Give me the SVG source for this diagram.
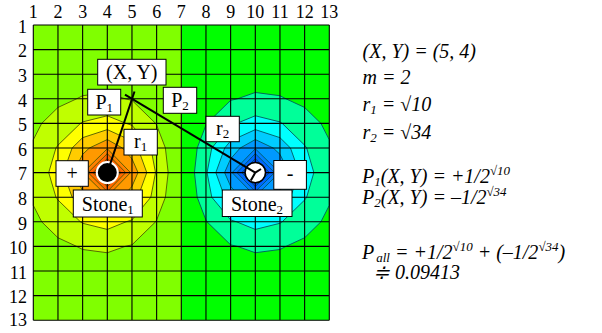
<svg xmlns="http://www.w3.org/2000/svg" width="602" height="333" viewBox="0 0 602 333">
<rect width="602" height="333" fill="#fff"/>
<g id="field">
<rect x="33.3" y="25" width="148" height="295.2" fill="#80ff00"/>
<rect x="181.3" y="25" width="148" height="295.2" fill="#00ff00"/>
<g id="contours-plus" stroke="#4d5a00" stroke-width="0.9" stroke-linejoin="round">
<polygon fill="#c0ff00" points="33.29,139.81 41.68,123.4 57.96,107.46 76.64,98.8 82.63,95.72 107.3,92.45 125.14,98.8 131.97,100.35 155.58,123.4 156.64,125.07 165.4,148 168.16,172.6 165.4,197.2 156.64,220.13 155.58,221.8 131.97,244.85 125.14,246.4 107.3,252.75 82.63,249.48 76.64,246.4 57.96,237.74 41.68,221.8 33.29,205.39"/>
<polygon fill="#ffff00" points="155.53,172.6 150.82,197.2 131.97,219.93 126,221.8 107.3,229.43 82.63,223.28 80.41,221.8 57.96,200 55.94,197.2 48.73,172.6 55.94,148 57.96,145.2 80.41,123.4 82.63,121.92 107.3,115.77 126,123.4 131.97,125.27 150.82,148"/>
<polygon fill="#ffcc00" points="146.77,172.6 137.89,197.2 131.97,204.33 107.3,215.58 82.63,207.53 72.14,197.2 63.39,172.6 72.14,148 82.63,137.67 107.3,129.62 131.97,140.87 137.89,148"/>
<polygon fill="#ff9900" points="138.01,172.6 131.97,186.4 122.4,197.2 107.3,205.64 89.39,197.2 82.63,190.85 73.4,172.6 82.63,154.35 89.39,148 107.3,139.56 122.4,148 131.97,158.8"/>
<polygon fill="#ff8000" points="130.49,172.6 107.3,196.46 83.02,172.6 107.3,148.74"/>
<polygon fill="#ff6600" points="125.7,172.6 107.3,191.54 88.06,172.6 107.3,153.66"/>
<polygon fill="#ff4400" points="120.89,172.6 107.3,186.6 93.07,172.6 107.3,158.6"/>
</g>
<g id="contours-minus" stroke="#005a60" stroke-width="0.9" stroke-linejoin="round">
<polygon fill="#00ff99" points="329.31,139.81 320.92,123.4 304.64,107.46 285.96,98.8 279.97,95.72 255.3,92.45 237.46,98.8 230.63,100.35 207.02,123.4 205.96,125.07 197.2,148 194.44,172.6 197.2,197.2 205.96,220.13 207.02,221.8 230.63,244.85 237.46,246.4 255.3,252.75 279.97,249.48 285.96,246.4 304.64,237.74 320.92,221.8 329.31,205.39"/>
<polygon fill="#00ffff" points="207.07,172.6 211.78,197.2 230.63,219.93 236.6,221.8 255.3,229.43 279.97,223.28 282.19,221.8 304.64,200 306.66,197.2 313.87,172.6 306.66,148 304.64,145.2 282.19,123.4 279.97,121.92 255.3,115.77 236.6,123.4 230.63,125.27 211.78,148"/>
<polygon fill="#00ccff" points="215.83,172.6 224.71,197.2 230.63,204.33 255.3,215.58 279.97,207.53 290.46,197.2 299.21,172.6 290.46,148 279.97,137.67 255.3,129.62 230.63,140.87 224.71,148"/>
<polygon fill="#0099ff" points="224.59,172.6 230.63,186.4 240.2,197.2 255.3,205.64 273.21,197.2 279.97,190.85 289.2,172.6 279.97,154.35 273.21,148 255.3,139.56 240.2,148 230.63,158.8"/>
<polygon fill="#0080ff" points="232.11,172.6 255.3,196.46 279.58,172.6 255.3,148.74"/>
<polygon fill="#0066ff" points="236.9,172.6 255.3,191.54 274.54,172.6 255.3,153.66"/>
<polygon fill="#0044ff" points="241.71,172.6 255.3,186.6 269.53,172.6 255.3,158.6"/>
</g>
<path fill="none" stroke="#000" stroke-width="1.1" d="M33.3,25V320.2M57.97,25V320.2M82.63,25V320.2M107.3,25V320.2M131.97,25V320.2M156.63,25V320.2M181.3,25V320.2M205.97,25V320.2M230.63,25V320.2M255.3,25V320.2M279.97,25V320.2M304.63,25V320.2M329.3,25V320.2M33.3,25H329.3M33.3,49.6H329.3M33.3,74.2H329.3M33.3,98.8H329.3M33.3,123.4H329.3M33.3,148H329.3M33.3,172.6H329.3M33.3,197.2H329.3M33.3,221.8H329.3M33.3,246.4H329.3M33.3,271H329.3M33.3,295.6H329.3M33.3,320.2H329.3"/>
</g>
<g id="axis-labels" fill="#000">
<g text-anchor="middle">
<text font-family="Liberation Serif" font-size="18" x="33.3" y="18">1</text><text font-family="Liberation Serif" font-size="18" x="57.97" y="18">2</text><text font-family="Liberation Serif" font-size="18" x="82.63" y="18">3</text><text font-family="Liberation Serif" font-size="18" x="107.3" y="18">4</text><text font-family="Liberation Serif" font-size="18" x="131.97" y="18">5</text><text font-family="Liberation Serif" font-size="18" x="156.63" y="18">6</text><text font-family="Liberation Serif" font-size="18" x="181.3" y="18">7</text><text font-family="Liberation Serif" font-size="18" x="205.97" y="18">8</text><text font-family="Liberation Serif" font-size="18" x="230.63" y="18">9</text><text font-family="Liberation Serif" font-size="18" x="255.3" y="18">10</text><text font-family="Liberation Serif" font-size="18" x="279.97" y="18">11</text><text font-family="Liberation Serif" font-size="18" x="304.63" y="18">12</text><text font-family="Liberation Serif" font-size="18" x="329.3" y="18">13</text>
</g>
<g text-anchor="end">
<text font-family="Liberation Serif" font-size="18" x="27" y="33">1</text><text font-family="Liberation Serif" font-size="18" x="27" y="57.3">2</text><text font-family="Liberation Serif" font-size="18" x="27" y="81.9">3</text><text font-family="Liberation Serif" font-size="18" x="27" y="106.5">4</text><text font-family="Liberation Serif" font-size="18" x="27" y="131.1">5</text><text font-family="Liberation Serif" font-size="18" x="27" y="155.7">6</text><text font-family="Liberation Serif" font-size="18" x="27" y="180.3">7</text><text font-family="Liberation Serif" font-size="18" x="27" y="204.9">8</text><text font-family="Liberation Serif" font-size="18" x="27" y="229.5">9</text><text font-family="Liberation Serif" font-size="18" x="27" y="254.1">10</text><text font-family="Liberation Serif" font-size="18" x="27" y="278.7">11</text><text font-family="Liberation Serif" font-size="18" x="27" y="303.3">12</text><text font-family="Liberation Serif" font-size="18" x="27" y="325.5">13</text>
</g>
</g>
<g id="stone1">
<circle cx="107.3" cy="172.6" r="10.5" fill="#000" stroke="#fff" stroke-width="2"/>
</g>
<g id="stone2">
<circle cx="255.3" cy="172.6" r="10.2" fill="#fff" stroke="#000" stroke-width="1.5"/>
<path d="M255.3,172.6L250.8,180.5M255.3,172.6L261,169" fill="none" stroke="#000" stroke-width="2"/>
</g>
<g id="connectors" fill="none" stroke="#000" stroke-width="2">
<line x1="134.5" y1="91.5" x2="107.3" y2="172.6"/>
<line x1="125" y1="94.6" x2="255.3" y2="172.6"/>
</g>
<g id="labels" text-anchor="middle" fill="#000">
<g id="label-xy"><rect fill="#fff" stroke="#000" x="97.7" y="59.3" width="68.3" height="25.7"/><text font-family="Liberation Serif" font-size="20" x="131.8" y="79">(X, Y)</text></g>
<g id="label-p1"><rect fill="#fff" stroke="#000" x="87.7" y="89.3" width="33" height="25.7"/><text font-family="Liberation Serif" font-size="20" x="104.2" y="109">P<tspan font-size="13" dy="3">1</tspan></text></g>
<g id="label-p2"><rect fill="#fff" stroke="#000" x="163.3" y="87.3" width="33.4" height="26"/><text font-family="Liberation Serif" font-size="20" x="180" y="107">P<tspan font-size="13" dy="3">2</tspan></text></g>
<g id="label-r1"><rect fill="#fff" stroke="#000" x="124" y="129.3" width="33.3" height="25.7"/><text font-family="Liberation Serif" font-size="20" x="140.7" y="148">r<tspan font-size="13" dy="3">1</tspan></text></g>
<g id="label-r2"><rect fill="#fff" stroke="#000" x="206" y="116.3" width="33.3" height="25.4"/><text font-family="Liberation Serif" font-size="20" x="222.7" y="135">r<tspan font-size="13" dy="3">2</tspan></text></g>
<g id="label-plus"><rect fill="#fff" stroke="#000" x="56" y="160.7" width="32.3" height="25.6"/><text font-family="Liberation Serif" font-size="20" x="72.2" y="180">+</text></g>
<g id="label-minus"><rect fill="#fff" stroke="#000" x="273.8" y="160.5" width="32.6" height="28.8"/><text font-family="Liberation Serif" font-size="20" x="290" y="180">-</text></g>
<g id="label-stone1"><rect fill="#fff" stroke="#000" x="73.3" y="190" width="69" height="27"/><text font-family="Liberation Serif" font-size="20" x="107.8" y="210.5">Stone<tspan font-size="13" dy="3">1</tspan></text></g>
<g id="label-stone2"><rect fill="#fff" stroke="#000" x="222.3" y="190" width="69.7" height="26.5"/><text font-family="Liberation Serif" font-size="20" x="257" y="210.5">Stone<tspan font-size="13" dy="3">2</tspan></text></g>
</g>
<g id="formulas" fill="#000">
<text font-family="Liberation Serif" font-size="20" font-style="italic" x="362.5" y="58">(X, Y) = (5, 4)</text>
<text font-family="Liberation Serif" font-size="20" font-style="italic" x="362.5" y="84">m = 2</text>
<text font-family="Liberation Serif" font-size="20" font-style="italic" x="362.5" y="111">r<tspan font-size="13" dy="3">1</tspan><tspan dy="-3"> = √10</tspan></text>
<text font-family="Liberation Serif" font-size="20" font-style="italic" x="362.5" y="138.5">r<tspan font-size="13" dy="3">2</tspan><tspan dy="-3"> = √34</tspan></text>
<text font-family="Liberation Serif" font-size="20" font-style="italic" x="362" y="183">P<tspan font-size="13" dy="3">1</tspan><tspan dy="-3">(X, Y) = +1/2</tspan><tspan font-size="13" dy="-8">√10</tspan></text>
<text font-family="Liberation Serif" font-size="20" font-style="italic" x="362" y="204">P<tspan font-size="13" dy="3">2</tspan><tspan dy="-3">(X, Y) = –1/2</tspan><tspan font-size="13" dy="-8">√34</tspan></text>
<text font-family="Liberation Serif" font-size="20" font-style="italic" x="362" y="259">P<tspan font-size="13" dx="2" dy="3">all</tspan><tspan dy="-3"> = +1/2</tspan><tspan font-size="13" dy="-8">√10</tspan><tspan dy="8"> + (–1/2</tspan><tspan font-size="13" dy="-8">√34</tspan><tspan dy="8">)</tspan></text>
<text font-family="Liberation Serif" font-size="20" font-style="italic" x="373" y="279">≑ 0.09413</text>
</g>
</svg>
